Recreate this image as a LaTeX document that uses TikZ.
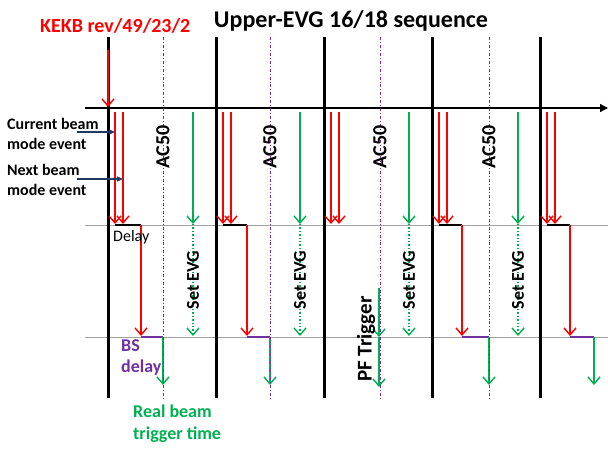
\documentclass[tikz,border=0pt]{standalone}
\usepackage{fontspec}
\setmainfont{Carlito}
\usetikzlibrary{arrows.meta}
\definecolor{kred}{HTML}{FF0000}
\definecolor{kgreen}{HTML}{00B050}
\definecolor{kpurple}{HTML}{7030A0}
\definecolor{knavy}{HTML}{1F3864}
\definecolor{kgray}{HTML}{A0A0A0}

\begin{document}
\begin{tikzpicture}[
      x=1pt, y=-1pt,
      barb/.style   = {-{Straight Barb[length=7pt,width=12pt,line width=1.4pt]}},
      redarr/.style = {barb, kred, line width=1.4pt},
      grnarr/.style = {barb, kgreen, line width=1.4pt},
      grndot/.style = {grnarr, dotted},
      period/.style = {line width=3pt},
      level/.style  = {kgray, line width=0.9pt},
      acline/.style = {kpurple, line width=0.9pt, dash dot},
      lbl/.style    = {inner sep=0pt, font=\fontsize{16}{20}\selectfont\bfseries, align=left},
      vlbl/.style   = {inner sep=0pt, rotate=90, font=\fontsize{19}{22}\selectfont\bfseries},
    ]
    \useasboundingbox (0,0) rectangle (608,451);

    % ---- levels and time axis ----
    \coordinate (lvA0) at (85,225);  \coordinate (lvA1) at (608,225);
    \coordinate (lvB0) at (85,337);  \coordinate (lvB1) at (608,337);
    \coordinate (ax0)  at (85,108);  \coordinate (ax1)  at (608,108);
    \draw[level] (lvA0) -- (lvA1);
    \draw[level] (lvB0) -- (lvB1);
    \draw[-{Triangle[length=8pt,width=8pt]}, line width=1.3pt] (ax0) -- (ax1);

    % ---- revolution markers ----
    \foreach \i in {1,...,5} {
      \coordinate (rt\i) at (108*\i,37);
      \coordinate (rb\i) at (108*\i,398);
      \draw[period] (rt\i) -- (rb\i);
    }

    % KEKB revolution trigger
    \coordinate (kt) at (108,50);
    \coordinate (kb) at (108,107);
    \draw[redarr] (kt) -- (kb);
    \node[lbl, kred, font=\fontsize{20}{24}\selectfont\bfseries, anchor=base west] (kekb) at (40,32) {KEKB rev/49/23/2};
    \node[lbl, font=\fontsize{24}{26}\selectfont\bfseries, anchor=base] (title) at (351,27) {Upper-EVG 16/18 sequence};

    % ---- beam mode events (two red arrows per period) ----
    \foreach \i in {1,...,5} {
      \coordinate (ca\i) at (108*\i+7,112);  \coordinate (cb\i) at (108*\i+7,224);
      \coordinate (na\i) at (108*\i+15,112); \coordinate (nb\i) at (108*\i+15,224);
      \draw[redarr] (ca\i) -- (cb\i);
      \draw[redarr] (na\i) -- (nb\i);
    }

    % ---- Set EVG arrows ----
    \foreach \x [count=\i] in {193,300,409,518} {
      \coordinate (sa\i) at (\x,112);
      \coordinate (sb\i) at (\x,224);
      \coordinate (sc\i) at (\x,336);
      \draw[grnarr] (sa\i) -- (sb\i);
      \draw[grndot] (sb\i) -- (sc\i);
      \node[vlbl, font=\fontsize{18}{22}\selectfont\bfseries] (setevg\i) at (\x,280) {Set EVG};
    }

    % ---- delay, BS delay, real beam trigger ----
    \foreach \i/\d/\a in {1/141/163, 2/247/270, 4/462/489, 5/570/594} {
      \coordinate (da\i) at (108*\i+7,225);
      \coordinate (db\i) at (\d,225);
      \coordinate (dc\i) at (\d,336);
      \coordinate (bs\i) at (\d,337);
      \coordinate (bt\i) at (\a,337);
      \coordinate (bb\i) at (\a,385);
      \draw[line width=1.4pt] (da\i) -- (db\i);
      \draw[redarr] (db\i) -- (dc\i);
      \draw[kpurple, line width=1.4pt] (bs\i) -- (bt\i);
      \draw[grnarr] (bt\i) -- (bb\i);
    }

    % PF trigger
    \coordinate (pf0) at (379,288);
    \coordinate (pf1) at (379,337);
    \coordinate (pf2) at (379,387);
    \draw[grnarr] (pf0) -- (pf1);
    \draw[grnarr] (pf1) -- (pf2);

    % ---- AC50 lines ----
    \foreach \x [count=\i] in {163,270,380,489} {
      \coordinate (act\i) at (\x,37);
      \coordinate (acb\i) at (\x,398);
      \draw[acline] (act\i) -- (acb\i);
      \node[vlbl, font=\fontsize{20}{22}\selectfont\bfseries] (ac\i) at (\x,147) {AC50};
    }
    \node[vlbl, font=\fontsize{21}{24}\selectfont\bfseries] (pftrig) at (366,339) {PF Trigger};

    % ---- left annotations ----
    \node[lbl, anchor=north west] (curr) at (7,118) {Current beam\\mode event};
    \node[lbl, anchor=north west] (next) at (7,164) {Next beam\\mode event};
    \coordinate (cpt) at (77,132);
    \coordinate (npt) at (77,179);
    \draw[-{Triangle[length=6pt,width=5pt]}, knavy, line width=1.3pt] (cpt) -- (ca1 |- cpt);
    \draw[-{Triangle[length=6pt,width=5pt]}, knavy, line width=1.3pt] (npt) -- (na1 |- npt);

    \node[lbl, font=\fontsize{16}{20}\selectfont, anchor=base west] (delay) at (113,241) {Delay};
    \node[lbl, kpurple, font=\fontsize{18}{21}\selectfont\bfseries, anchor=north west] (bsdelay) at (121,339) {BS\\delay};
    \node[lbl, kgreen, font=\fontsize{18}{22}\selectfont\bfseries, anchor=north west] (real) at (133,405) {Real beam\\trigger time};
  \end{tikzpicture}
\end{document}
